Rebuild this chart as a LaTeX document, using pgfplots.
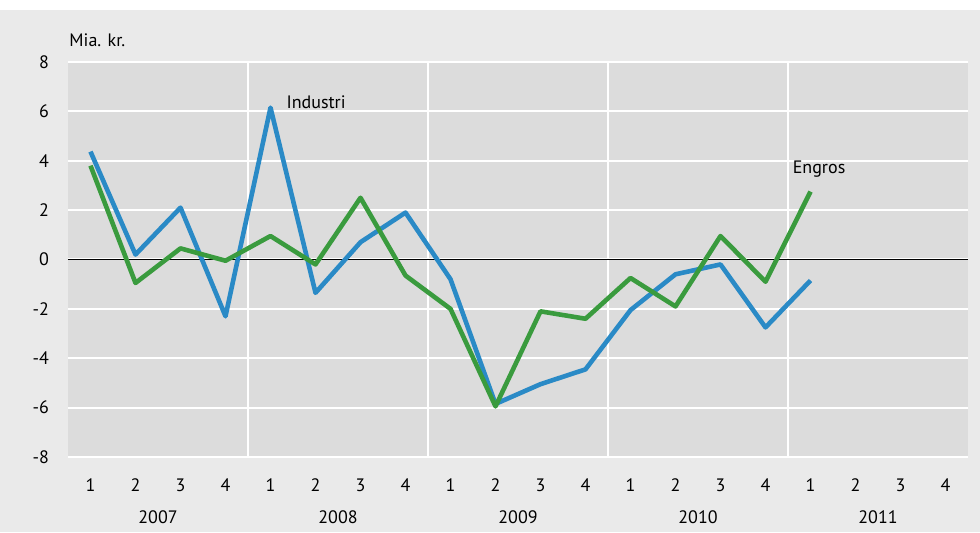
\documentclass[border=0pt]{standalone}
\usepackage{fontspec}
\setmainfont{PT Sans}
\usepackage{pgfplots}
\pgfplotsset{compat=1.18}
\definecolor{outerbg}{HTML}{EAEAEA}
\definecolor{plotbg}{HTML}{DCDCDC}
\definecolor{ind}{HTML}{2A8AC6}
\definecolor{eng}{HTML}{3A9B3E}
\begin{document}
\begin{tikzpicture}[x=1pt,y=1pt]
\fill[outerbg] (0,0) rectangle (490,261);
\fill[white] (0,261) rectangle (490,266);
\begin{axis}[
  at={(34pt,37.5pt)}, anchor=south west,
  scale only axis, width=450pt, height=197.5pt,
  xmin=0.5, xmax=20.5, ymin=-8, ymax=8,
  axis background/.style={fill=plotbg},
  axis line style={draw=none},
  ytick={-8,-6,...,8},
  yticklabels={-8,-6,-4,-2,0,2,4,6,8},
  ymajorgrids,
  grid style={white, line width=1pt},
  xtick={1,...,20},
  xticklabels={1,2,3,4,1,2,3,4,1,2,3,4,1,2,3,4,1,2,3,4},
  extra x ticks={4.5,8.5,12.5,16.5},
  extra x tick labels={},
  extra x tick style={grid=major, major grid style={white, line width=1pt}},
  extra y ticks={0},
  extra y tick labels={},
  extra y tick style={grid=major, major grid style={black, line width=0.5pt}},
  major tick length=0pt,
  tick label style={font=\fontsize{9}{10}\selectfont},
  xticklabel style={yshift=-7.5pt},
  yticklabel style={xshift=-6pt},
  clip=false,
]
\addplot[ind, line width=2.3pt, line join=round] coordinates {
(1,4.37) (2,0.2) (3,2.1) (4,-2.3) (5,6.15) (6,-1.35) (7,0.7) (8,1.9)
(9,-0.8) (10,-5.85) (11,-5.05) (12,-4.45) (13,-2.05) (14,-0.6) (15,-0.2) (16,-2.75)
(17,-0.85)};
\addplot[eng, line width=2.3pt, line join=round] coordinates {
(1,3.8) (2,-0.95) (3,0.45) (4,-0.05) (5,0.95) (6,-0.2) (7,2.5) (8,-0.65)
(9,-2.0) (10,-5.95) (11,-2.1) (12,-2.4) (13,-0.75) (14,-1.9) (15,0.95) (16,-0.9)
(17,2.75)};
\node[font=\fontsize{9}{10}\selectfont, anchor=west] at (axis cs:5.2,6.35) {Industri};
\node[font=\fontsize{9}{10}\selectfont, anchor=west] at (axis cs:16.45,3.65) {Engros};
\node[font=\fontsize{9}{10}\selectfont, anchor=west, xshift=-2.8pt, yshift=11pt] at (rel axis cs:0,1) {Mia. kr.};
\node[font=\fontsize{9}{10}\selectfont, yshift=-30pt] at (axis cs:2.5,-8) {2007};
\node[font=\fontsize{9}{10}\selectfont, yshift=-30pt] at (axis cs:6.5,-8) {2008};
\node[font=\fontsize{9}{10}\selectfont, yshift=-30pt] at (axis cs:10.5,-8) {2009};
\node[font=\fontsize{9}{10}\selectfont, yshift=-30pt] at (axis cs:14.5,-8) {2010};
\node[font=\fontsize{9}{10}\selectfont, yshift=-30pt] at (axis cs:18.5,-8) {2011};
\end{axis}
\end{tikzpicture}
\end{document}
